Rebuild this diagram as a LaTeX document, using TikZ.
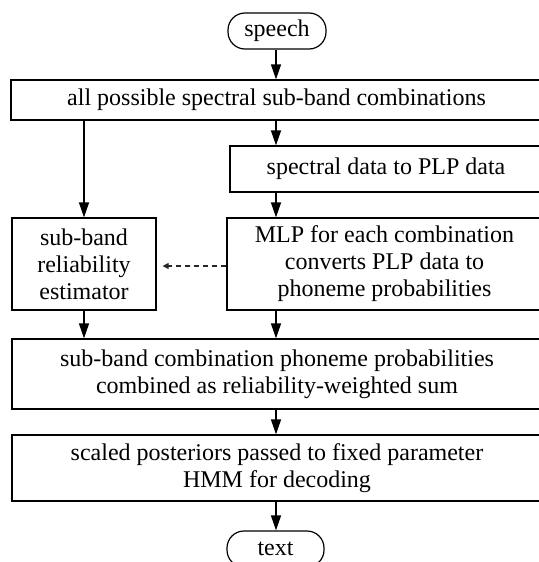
\documentclass[tikz,border=0pt]{standalone}
\usepackage{fontspec}
\setmainfont{Liberation Serif}
\usetikzlibrary{arrows.meta,calc}

\tikzset{
  box/.style={draw, line width=1.2pt, rectangle, align=center, inner sep=0pt,
    font=\fontsize{24}{27}\selectfont},
  term/.style={box, rounded corners=17pt},
  arr/.style={line width=1.2pt, -{Triangle[length=15pt,width=10pt]}},
  hint/.style={line width=1.2pt, draw=black!85, dash pattern=on 5pt off 4pt,
    -{Triangle[length=6pt,width=6pt]}, shorten >=6pt},
}

\begin{document}
\begin{tikzpicture}[x=1pt,y=-1pt]
  \useasboundingbox (0,0) rectangle (538,562);

  % terminals
  \node[term, minimum width=98pt, minimum height=36pt] (speech) at (277,31) {speech};
  \node[term, minimum width=97pt, minimum height=36pt] (text) at (275.5,549) {text};

  % processing stages (the wide ones run past the right margin)
  \node[box, minimum width=531pt, minimum height=40pt] (combos) at (276.5,100)
    {all possible spectral sub-band combinations};
  \node[box, minimum width=312pt, minimum height=46pt] (plp) at (386,169)
    {spectral data to PLP data};
  \node[box, minimum width=315pt, minimum height=92pt] (mlp) at (384.5,264)
    {MLP for each combination\\converts PLP data to\\phoneme probabilities};
  \node[box, minimum width=144pt, minimum height=92pt] (rel) at (84,264)
    {sub-band\\reliability\\estimator};
  \node[box, minimum width=530pt, minimum height=70pt] (sum) at (277,374)
    {sub-band combination phoneme probabilities\\combined as reliability-weighted sum};
  \node[box, minimum width=530pt, minimum height=66pt] (hmm) at (277,468)
    {scaled posteriors passed to fixed parameter\\HMM for decoding};

  % vertical spines for the connectors
  \coordinate (spine) at (276,0);
  \coordinate (lspine) at (84,0);

  \draw[arr] (spine |- speech.south) -- (spine |- combos.north);
  \draw[arr] (spine |- combos.south) -- (spine |- plp.north);
  \draw[arr] (spine |- plp.south) -- (spine |- mlp.north);
  \draw[arr] (spine |- mlp.south) -- (spine |- sum.north);
  \draw[arr] (spine |- sum.south) -- (spine |- hmm.north);
  \draw[arr] (spine |- hmm.south) -- (spine |- text.north);
  \draw[arr] (lspine |- combos.south) -- (lspine |- rel.north);
  \draw[arr] (lspine |- rel.south) -- (lspine |- sum.north);

  % reliability hint
  \draw[hint] ([yshift=-2pt]mlp.west) -- ([yshift=-2pt]rel.east);
\end{tikzpicture}
\end{document}
